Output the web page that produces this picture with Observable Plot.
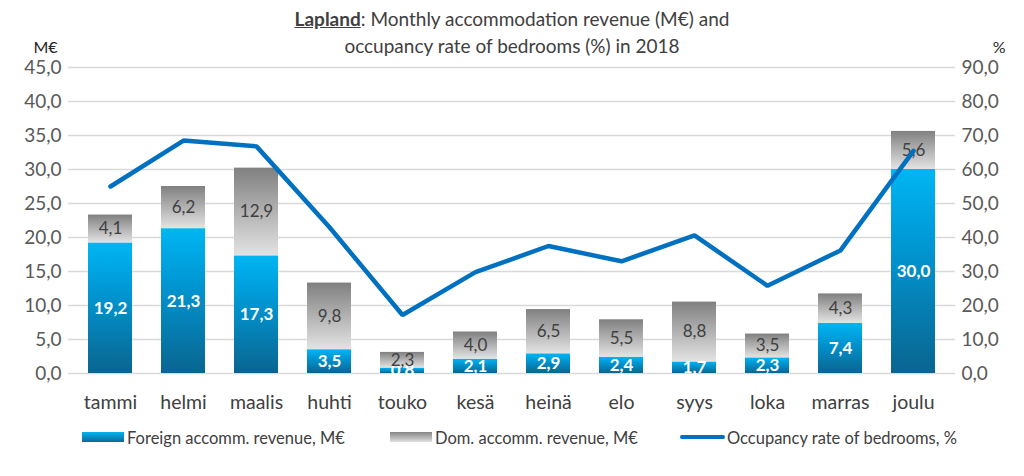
<!DOCTYPE html>
<html>
<head>
<meta charset="utf-8">
<script src="https://cdn.jsdelivr.net/npm/d3@7"></script>
<script src="https://cdn.jsdelivr.net/npm/@observablehq/plot@0.6"></script>
<style>
  html, body { margin: 0; padding: 0; background: white; }
  #wrap { position: relative; width: 1024px; height: 476px; font-family: Lato, "Open Sans", sans-serif; }
  #title { position: absolute; left: 0; width: 1024px; top: 5px; text-align: center; font-size: 19px; line-height: 27px; color: #404040; }
  #title b { text-decoration: underline; }
  #chart { position: absolute; left: 0; top: 0; }
  .leg { position: absolute; top: 428px; font-size: 16.5px; color: #404040; white-space: nowrap; }
  .sw { position: absolute; }
</style>
</head>
<body>
<div id="wrap">
  <div id="chart"></div>
  <div id="title"><b>Lapland</b>: Monthly accommodation revenue (M€) and<br>occupancy rate of bedrooms (%) in 2018</div>
  <div class="sw" style="left:82px; top:432px; width:42px; height:10px; background:linear-gradient(#00b4f0,#0a6a98);"></div>
  <div class="leg" style="left:127px;">Foreign accomm. revenue, M€</div>
  <div class="sw" style="left:390px; top:432px; width:42px; height:10px; background:linear-gradient(#858585,#e0e0e0);"></div>
  <div class="leg" style="left:435px;">Dom. accomm. revenue, M€</div>
  <div class="sw" style="left:680px; top:435px; width:45px; height:4px; background:#0070c0; border-radius:2px;"></div>
  <div class="leg" style="left:727px;">Occupancy rate of bedrooms, %</div>
</div>
<script>
const months = ["tammi","helmi","maalis","huhti","touko","kesä","heinä","elo","syys","loka","marras","joulu"];
const foreign = [19.2, 21.3, 17.3, 3.5, 0.8, 2.1, 2.9, 2.4, 1.7, 2.3, 7.4, 30.0];
const domestic = [4.1, 6.2, 12.9, 9.8, 2.3, 4.0, 6.5, 5.5, 8.8, 3.5, 4.3, 5.6];
const occupancy = [55.0, 68.5, 66.8, 43.0, 17.2, 29.8, 37.5, 33.0, 40.6, 25.8, 36.2, 65.5];
const leftTicks = [0, 5, 10, 15, 20, 25, 30, 35, 40, 45];

const data = months.map((m, i) => ({month: m, f: foreign[i], d: domestic[i], o: occupancy[i]}));
const fmt = v => v.toFixed(1).replace(".", ",");

const svg = Plot.plot({
  width: 1024,
  height: 424,
  marginTop: 67,
  marginBottom: 51,
  marginLeft: 68,
  marginRight: 69,
  style: {fontFamily: "Lato, 'Open Sans', sans-serif", fontSize: "19px", color: "#595959", background: "transparent"},
  x: {domain: months, paddingInner: 0.4, paddingOuter: 0.2, label: null},
  y: {domain: [0, 45], label: null},
  marks: [
    Plot.gridY(leftTicks, {stroke: "#d9d9d9", strokeOpacity: 1, strokeWidth: 1.3}),
    Plot.axisY(leftTicks, {anchor: "left", tickSize: 0, tickPadding: 7, tickFormat: fmt, label: null, fill: "#595959"}),
    Plot.axisY(leftTicks, {anchor: "right", tickSize: 0, tickPadding: 6, tickFormat: d => fmt(d * 2), label: null, fill: "#595959"}),
    Plot.axisX({tickSize: 0, tickPadding: 22, label: null, fill: "#404040", fontSize: 19.5}),
    Plot.barY(data, {x: "month", y1: 0, y2: "f", fill: "url(#gradF)"}),
    Plot.barY(data, {x: "month", y1: "f", y2: d => d.f + d.d, fill: "url(#gradD)"}),
    Plot.text(data, {x: "month", y: d => d.f / 2, text: d => fmt(d.f), fill: "white", fontWeight: "bold", fontSize: 17}),
    Plot.text(data, {x: "month", y: d => d.f + d.d / 2, text: d => fmt(d.d), fill: "#404040", fontSize: 17}),
    Plot.line(data, {x: "month", y: d => d.o / 2, stroke: "#0070c0", strokeWidth: 4.5, strokeLinejoin: "miter"}),
    Plot.text(["M€"], {frameAnchor: "top-left", dx: -35, dy: -26, fill: "#262626", fontSize: 16}),
    Plot.text(["%"], {frameAnchor: "top-right", dx: 50, dy: -26, fill: "#262626", fontSize: 16})
  ]
});

const defs = d3.select(svg).insert("defs", ":first-child");
const gF = defs.append("linearGradient").attr("id", "gradF").attr("x1", 0).attr("y1", 0).attr("x2", 0).attr("y2", 1);
gF.append("stop").attr("offset", "0%").attr("stop-color", "#00b6f2");
gF.append("stop").attr("offset", "35%").attr("stop-color", "#0099d6");
gF.append("stop").attr("offset", "100%").attr("stop-color", "#0a6590");
const gD = defs.append("linearGradient").attr("id", "gradD").attr("x1", 0).attr("y1", 0).attr("x2", 0).attr("y2", 1);
gD.append("stop").attr("offset", "0%").attr("stop-color", "#808080");
gD.append("stop").attr("offset", "100%").attr("stop-color", "#e3e3e3");

document.getElementById("chart").appendChild(svg);
</script>
</body>
</html>
